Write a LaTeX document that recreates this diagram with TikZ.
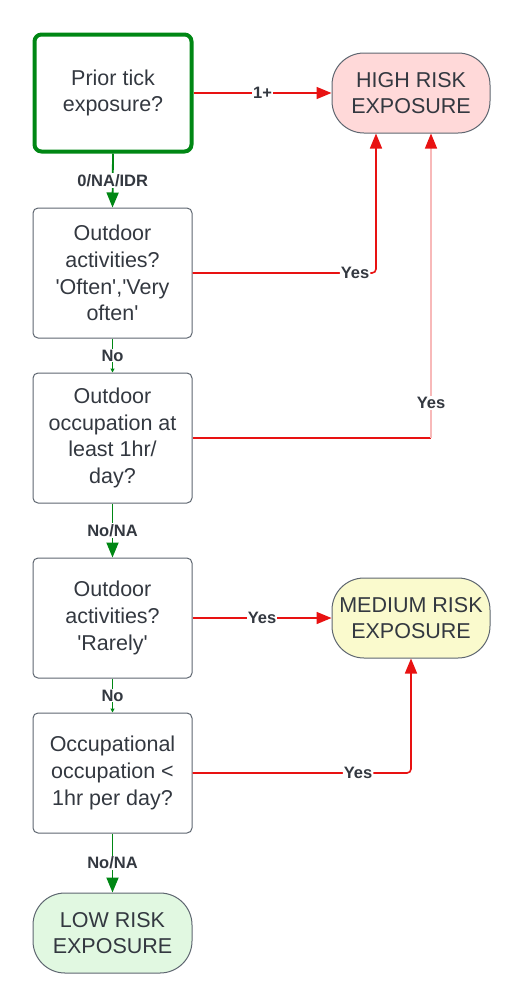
\documentclass[tikz,border=0pt]{standalone}
\usepackage{fontspec}
\setmainfont{Liberation Sans}[Ligatures=TeXOff]
\usetikzlibrary{arrows.meta}
\definecolor{txt}{RGB}{51,56,64}
\definecolor{grn}{RGB}{0,135,20}
\definecolor{rd}{RGB}{232,18,18}
\definecolor{pk}{RGB}{248,185,185}
\definecolor{edgec}{RGB}{94,102,112}
\definecolor{hi}{RGB}{255,217,217}
\definecolor{med}{RGB}{250,250,205}
\definecolor{lo}{RGB}{225,248,225}
\begin{document}
\begin{tikzpicture}[x=1pt,y=-1pt,
  qbox/.style={draw=edgec, line width=1pt, rounded corners=5pt, minimum width=159pt,
    align=center, text=txt, font=\fontsize{21.5}{26.7}\selectfont, inner sep=0pt},
  endbox/.style={qbox, rounded corners=32pt},
  lbl/.style={fill=white, text=txt, font=\bfseries\fontsize{16.5}{18}\selectfont, inner sep=1pt},
  gline/.style={draw=grn, line width=1.8pt, -{Triangle[length=15pt,width=12pt,color=grn]}},
  gsmall/.style={draw=grn, line width=1.3pt, -{Triangle[length=4pt,width=4pt,color=grn]}},
  rline/.style={draw=rd, line width=1.6pt, -{Triangle[length=15pt,width=12pt,color=rd]}},
  rplain/.style={draw=rd, line width=1.6pt},
  pline/.style={draw=pk, line width=1.2pt, -{Triangle[length=15pt,width=12pt,color=rd]}}
]
\useasboundingbox (0,0) rectangle (526,1005);

\node[qbox, draw=grn, line width=4pt, rounded corners=7pt, minimum width=157pt, minimum height=117pt]
  (prior) at (113,93) {Prior tick\\exposure?};
\node[endbox, fill=hi, minimum width=158pt, minimum height=80pt] (high) at (411,93) {HIGH RISK\\EXPOSURE};
\node[qbox, minimum height=130pt] (b2) at (112.5,273) {Outdoor\\activities?\\\textquotesingle Often\textquotesingle,\textquotesingle Very\\often\textquotesingle};
\node[qbox, minimum height=130pt] (b3) at (112.5,438) {Outdoor\\occupation at\\least 1hr/\\day?};
\node[qbox, minimum height=120pt] (b4) at (112.5,618) {Outdoor\\activities?\\\textquotesingle Rarely\textquotesingle};
\node[endbox, fill=med, minimum width=158pt, minimum height=80pt] (medium) at (411,618) {MEDIUM RISK\\EXPOSURE};
\node[qbox, minimum height=120pt] (b5) at (112.5,773) {Occupational\\occupation <\\1hr per day?};
\node[endbox, fill=lo, minimum height=80pt] (low) at (112.5,933) {LOW RISK\\EXPOSURE};

\draw[rline] (prior.east) -- node[lbl]{1+} (high.west);
\draw[gline] (prior.south) -- node[lbl]{0/NA/IDR} (b2.north);
\draw[rline, rounded corners=4pt] (b2.east) -| node[lbl, pos=0.443]{Yes} ([xshift=-35pt]high.south);
\coordinate (c3) at ([xshift=20pt]high.south |- b3.east);
\draw[rplain] (b3.east) -- (c3);
\draw[pline] (c3) -- node[lbl, pos=0.115]{Yes} ([xshift=20pt]high.south);
\draw[gsmall] (b2.south) -- node[lbl]{No} (b3.north);
\draw[gline] (b3.south) -- node[lbl]{No/NA} (b4.north);
\draw[rline] (b4.east) -- node[lbl]{Yes} (medium.west);
\draw[gsmall] (b4.south) -- node[lbl]{No} (b5.north);
\draw[rline, rounded corners=4pt] (b5.east) -| node[lbl, pos=0.379]{Yes} (medium.south);
\draw[gline] (b5.south) -- node[lbl]{No/NA} (low.north);
\end{tikzpicture}
\end{document}
